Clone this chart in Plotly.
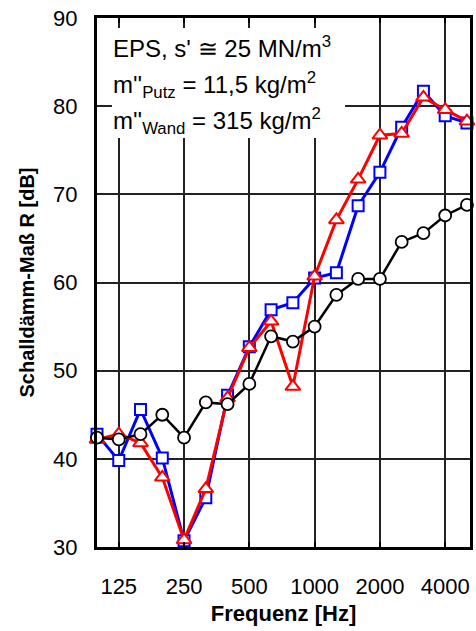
import plotly.graph_objects as go

freqs = ["100", "125", "160", "200", "250", "315", "400", "500", "630", "800",
         "1000", "1250", "1600", "2000", "2500", "3150", "4000", "5000"]
tick_labels = ["125", "250", "500", "1000", "2000", "4000"]

r_blue = [42.8, 39.8, 45.6, 40.1, 30.7, 35.6, 47.2, 52.7, 56.9, 57.7,
          60.5, 61.1, 68.7, 72.5, 77.6, 81.7, 78.9, 78.1]
r_red = [42.2, 42.8, 41.8, 37.9, 30.8, 36.6, 46.9, 52.6, 55.6, 48.2,
         60.7, 67.1, 71.7, 76.7, 76.9, 81.0, 79.6, 78.3]
r_black = [42.4, 42.2, 42.8, 45.0, 42.4, 46.4, 46.2, 48.5, 53.9, 53.3,
           55.0, 58.6, 60.4, 60.4, 64.6, 65.6, 67.6, 68.8]

FONT = "Liberation Sans, Arial, sans-serif"

fig = go.Figure()
fig.add_trace(go.Scatter(
    x=freqs, y=r_blue, mode="lines+markers",
    line=dict(color="#0000ff", width=3),
    marker=dict(symbol="square", size=11, color="white",
                line=dict(color="#0000ff", width=2)),
    cliponaxis=False, showlegend=False))
fig.add_trace(go.Scatter(
    x=freqs, y=r_red, mode="lines+markers",
    line=dict(color="#ff0000", width=3),
    marker=dict(symbol="triangle-up", size=13, color="white",
                line=dict(color="#ff0000", width=2)),
    cliponaxis=False, showlegend=False))
fig.add_trace(go.Scatter(
    x=freqs, y=r_black, mode="lines+markers",
    line=dict(color="black", width=2.5),
    marker=dict(symbol="circle", size=12, color="white",
                line=dict(color="black", width=1.8)),
    cliponaxis=False, showlegend=False))

# white text box
fig.add_shape(type="rect", xref="paper", yref="paper",
              x0=0.04, x1=0.665, y0=0.773, y1=0.981,
              fillcolor="white", line=dict(width=0), layer="above")

texts = ["EPS, s' \u2245 25 MN/m<sup>3</sup>",
         "m''<sub>Putz</sub> = 11,5 kg/m<sup>2</sup>",
         "m''<sub>Wand</sub> = 315 kg/m<sup>2</sup>"]
ys = [0.945, 0.873, 0.805]
for t, yy in zip(texts, ys):
    fig.add_annotation(text=t, xref="paper", yref="paper", x=0.038, y=yy,
                       xanchor="left", yanchor="middle", showarrow=False,
                       font=dict(family=FONT, size=24, color="black"))

fig.update_layout(
    width=476, height=631,
    margin=dict(l=97, r=3, t=18, b=84),
    paper_bgcolor="white", plot_bgcolor="white",
    font=dict(family=FONT, size=21, color="black"),
)
fig.update_xaxes(
    type="category", categoryorder="array", categoryarray=freqs,
    range=[0, 17.14],
    tickmode="array", tickvals=tick_labels, ticktext=tick_labels,
    ticks="inside", ticklen=5, tickwidth=1.5, tickcolor="black",
    showgrid=True, gridcolor="#222222", gridwidth=1.5,
    showline=True, linecolor="black", linewidth=3, mirror="allticks",
    tickfont=dict(size=22), ticklabelstandoff=18,
    title=dict(text="<b>Frequenz [Hz]</b>", font=dict(size=22), standoff=8),
    zeroline=False,
)
fig.update_yaxes(
    range=[30, 90], tickmode="array", tickvals=[30, 40, 50, 60, 70, 80, 90],
    showgrid=True, gridcolor="#222222", gridwidth=1.5,
    showline=True, linecolor="black", linewidth=3, mirror=True,
    ticks="", tickfont=dict(size=22), ticklabelstandoff=12,
    title=dict(text="<b>Schalldämm-Maß R [dB]</b>", font=dict(size=20), standoff=14),
    zeroline=False,
)

fig.write_html("out.html")
